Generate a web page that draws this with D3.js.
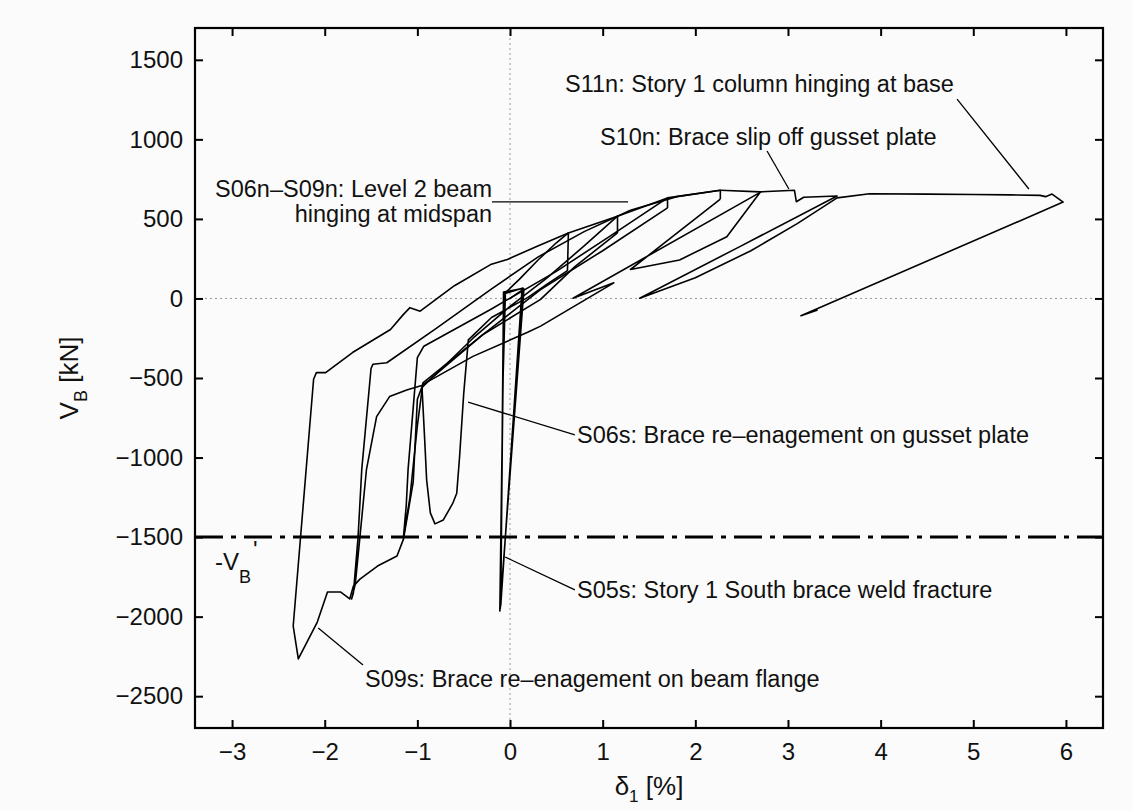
<!DOCTYPE html>
<html lang="en">
<head>
    <meta charset="UTF-8">
    <title>V_B vs drift</title>
    <script src="https://cdn.jsdelivr.net/npm/d3@7"></script>
    <style>
        body {
            margin: 0;
            background-color: #fbfbfb;
        }

        svg text {
            font-family: "Liberation Sans", Arial, Helvetica, sans-serif;
            fill: #111;
        }

        .tick text {
            font-size: 24px;
        }

        .tick line, .domain {
            stroke: #000;
        }

        path.curve {
            fill: none;
            stroke: #000;
            stroke-width: 1.6;
            stroke-linejoin: round;
        }

        line.zero {
            stroke: #9a9a9a;
            stroke-width: 1;
            stroke-dasharray: 2, 3;
        }

        line.limit {
            stroke: #000;
            stroke-width: 3;
            stroke-dasharray: 28, 8, 5, 8;
        }

        line.leader {
            stroke: #000;
            stroke-width: 1.3;
        }

        text.note {
            font-size: 23.5px;
        }
    </style>
</head>
<body>
<svg id="chart"></svg>

<script>
    // axis setup
    const xTicks = [-3, -2, -1, 0, 1, 2, 3, 4, 5, 6];
    const yTicks = [-2500, -2000, -1500, -1000, -500, 0, 500, 1000, 1500];
    const limitShear = -1500;

    // hysteresis as [drift %, shear kN]
    const elasticCycles = [[0, 0], [0.15, 60], [-0.11, -1965], [-0.085, -900], [-0.07, 40], [0.13, 62],
        [-0.10, -1930], [-0.08, -700], [-0.06, 30], [0.14, 66], [-0.105, -1950], [-0.075, -500], [-0.05, 36]];
    const cycle6 = [[-0.05, 36], [0.10, 120], [0.30, 240], [0.50, 350], [0.63, 412], [0.62, 175],
        [0.40, 90], [0.19, 5], [-0.20, -120], [-0.45, -260], [-0.50, -600], [-0.545, -1000], [-0.575, -1224],
        [-0.62, -1290], [-0.72, -1392], [-0.81, -1417], [-0.86, -1348], [-0.90, -1140], [-0.92, -900],
        [-0.95, -560], [-0.70, -420], [-0.40, -250], [0.0, -50], [0.40, 130], [0.80, 330], [1.16, 517],
        [1.16, 412]];
    const cycle7 = [[1.16, 412], [0.70, 200], [0.33, -6], [-0.30, -230], [-0.94, -530], [-1.00, -800],
        [-1.08, -1250], [-1.15, -1500], [-1.12, -1300], [-1.10, -1073], [-1.00, -372], [-0.93, -300],
        [-0.21, -69], [0.50, 170], [1.10, 400], [1.70, 632], [1.70, 569]];
    const cycle8 = [[1.70, 569], [1.00, 300], [0.33, 56], [-0.30, -230], [-0.935, -544], [-1.115, -575],
        [-1.30, -617], [-1.44, -743], [-1.55, -1078], [-1.62, -1500], [-1.67, -1795], [-1.71, -1889],
        [-1.69, -1850], [-1.64, -1500], [-1.60, -1073], [-1.50, -440], [-1.48, -414], [-1.33, -404],
        [-0.80, -190], [-0.21, 56], [0.30, 260], [0.80, 420], [1.30, 555], [1.80, 640], [2.27, 680],
        [2.27, 625]];
    const cycle9 = [[2.27, 625], [1.30, 182], [1.83, 242], [2.34, 388], [2.70, 667], [0.68, 1],
        [1.12, 98], [0.33, -174], [0.19, -213], [-0.40, -364], [-0.94, -540], [-1.00, -634],
        [-1.045, -1155], [-1.15, -1513], [-1.22, -1619], [-1.43, -1682], [-1.62, -1764], [-1.69, -1808],
        [-1.73, -1889], [-1.83, -1845], [-1.97, -1845], [-2.08, -2034], [-2.285, -2266], [-2.34, -2059],
        [-2.12, -508], [-2.09, -466], [-1.99, -466], [-1.70, -340], [-1.29, -195], [-1.15, -100],
        [-1.08, -58], [-0.97, -80], [-0.60, 80], [-0.21, 213], [-0.03, 245], [0.30, 330], [0.63, 412],
        [1.16, 517], [1.70, 632], [2.27, 680]];
    const cycle10 = [[2.27, 680], [2.70, 670], [3.07, 680], [3.09, 608], [3.17, 636], [3.53, 644],
        [2.48, 326], [1.40, 1], [2.00, 130], [2.60, 300], [3.10, 470], [3.53, 632]];
    const cycle11 = [[3.53, 632], [3.88, 658], [4.50, 656], [5.00, 653], [5.40, 651], [5.72, 648],
        [5.78, 640], [5.85, 656], [5.97, 606], [3.14, -109], [3.32, -72]];
    const curves = [elasticCycles, cycle6, cycle7, cycle8, cycle9, cycle10, cycle11];

    // annotations: text anchor and leader ends in data units
    const notes = [
        {text: "S11n: Story 1 column hinging at base", at: [0.594, 1300], anchor: "start", from: [4.825, 1253], to: [5.60, 688]},
        {text: "S10n: Brace slip off gusset plate", at: [0.971, 967], anchor: "start", from: [2.774, 927], to: [3.01, 688]},
        {text: "S06n\u2013S09n: Level 2 beam", at: [-0.194, 638], anchor: "end", from: [-0.194, 607], to: [1.274, 607]},
        {text: "hinging at midspan", at: [-0.194, 481], anchor: "end"},
        {text: "S06s: Brace re\u2013enagement on gusset plate", at: [0.723, -908], anchor: "start", from: [-0.453, -651], to: [0.70, -858]},
        {text: "S05s: Story 1 South brace weld fracture", at: [0.723, -1882], anchor: "start", from: [-0.054, -1625], to: [0.70, -1832]},
        {text: "S09s: Brace re\u2013enagement on beam flange", at: [-1.565, -2445], anchor: "start", from: [-2.07, -2071], to: [-1.587, -2304]}
    ];

    const width = 1133, height = 811;
    const margin = {top: 28, right: 30, bottom: 83, left: 195};

    const x = d3.scaleLinear().domain([-3.4, 6.4]).range([margin.left, width - margin.right]);
    const y = d3.scaleLinear().domain([-2700, 1700]).range([height - margin.bottom, margin.top]);

    const svg = d3.select("#chart").attr("width", width).attr("height", height);

    // zero reference lines
    svg.append("line").attr("class", "zero")
        .attr("x1", x(0)).attr("x2", x(0)).attr("y1", y.range()[1]).attr("y2", y.range()[0]);
    svg.append("line").attr("class", "zero")
        .attr("x1", x.range()[0]).attr("x2", x.range()[1]).attr("y1", y(0)).attr("y2", y(0));

    // -V_B' level
    svg.append("line").attr("class", "limit")
        .attr("x1", x.range()[0]).attr("x2", x.range()[1]).attr("y1", y(limitShear)).attr("y2", y(limitShear));

    const limitLabel = svg.append("text")
        .attr("x", x.range()[0] + 20).attr("y", y(limitShear) + 33)
        .style("font-size", "24px");
    limitLabel.append("tspan").text("-V");
    limitLabel.append("tspan").attr("dy", 13).style("font-size", "18px").text("B");
    limitLabel.append("tspan").attr("dy", -25).attr("dx", 2).text("'");

    // hysteresis
    const line = d3.line().x(d => x(d[0])).y(d => y(d[1]));
    svg.selectAll("path.curve")
        .data(curves)
        .enter().append("path")
        .attr("class", "curve")
        .attr("d", line);

    // leaders and notes
    notes.filter(d => d.from).forEach(d => {
        svg.append("line").attr("class", "leader")
            .attr("x1", x(d.from[0])).attr("y1", y(d.from[1]))
            .attr("x2", x(d.to[0])).attr("y2", y(d.to[1]));
    });
    svg.selectAll("text.note")
        .data(notes)
        .enter().append("text")
        .attr("class", "note")
        .attr("x", d => x(d.at[0]))
        .attr("y", d => y(d.at[1]))
        .attr("text-anchor", d => d.anchor)
        .text(d => d.text);

    // axes, ticks pointing inward on all four sides
    const x0 = margin.left, x1 = width - margin.right;
    const y0 = height - margin.bottom, y1 = margin.top;
    const plain = d3.format("d");

    svg.append("g").attr("transform", `translate(0,${y0})`)
        .call(d3.axisBottom(x).tickValues(xTicks).tickFormat(plain).tickSizeInner(-8).tickSizeOuter(0).tickPadding(15));
    svg.append("g").attr("transform", `translate(0,${y1})`)
        .call(d3.axisTop(x).tickValues(xTicks).tickSizeInner(-8).tickSizeOuter(0).tickFormat(""));
    svg.append("g").attr("transform", `translate(${x0},0)`)
        .call(d3.axisLeft(y).tickValues(yTicks).tickFormat(plain).tickSizeInner(-8).tickSizeOuter(0).tickPadding(12));
    svg.append("g").attr("transform", `translate(${x1},0)`)
        .call(d3.axisRight(y).tickValues(yTicks).tickSizeInner(-8).tickSizeOuter(0).tickFormat(""));

    svg.selectAll(".tick line").attr("stroke-width", 2);
    svg.selectAll(".domain").remove();

    svg.append("rect")
        .attr("x", x0).attr("y", y1).attr("width", x1 - x0).attr("height", y0 - y1)
        .attr("fill", "none").attr("stroke", "#000").attr("stroke-width", 2.2);

    // axis titles
    const xTitle = svg.append("text")
        .attr("x", (x0 + x1) / 2).attr("y", 795)
        .attr("text-anchor", "middle")
        .style("font-size", "26px");
    xTitle.append("tspan").text("\u03b4");
    xTitle.append("tspan").attr("dy", 7).style("font-size", "17px").text("1");
    xTitle.append("tspan").attr("dy", -7).text(" [%]");

    const yTitle = svg.append("text")
        .attr("transform", `translate(78,${(y0 + y1) / 2}) rotate(-90)`)
        .attr("text-anchor", "middle")
        .style("font-size", "26px");
    yTitle.append("tspan").text("V");
    yTitle.append("tspan").attr("dy", 9).style("font-size", "18px").text("B");
    yTitle.append("tspan").attr("dy", -9).text(" [kN]");
</script>
</body>
</html>
